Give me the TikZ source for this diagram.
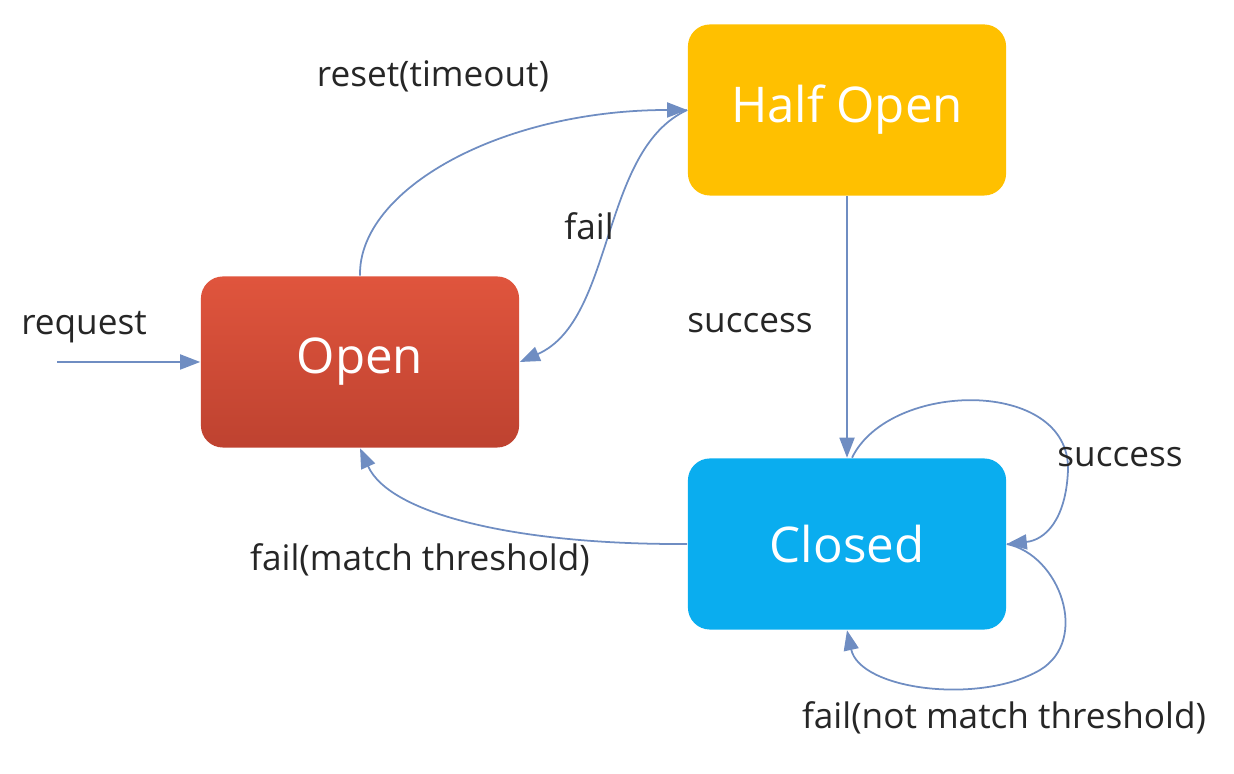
\documentclass[tikz,border=0pt]{standalone}
\usepackage{fontspec}
\setmainfont{Open Sans}
\usetikzlibrary{arrows.meta}
\definecolor{halfyellow}{HTML}{FFC000}
\definecolor{closedblue}{HTML}{0AADEF}
\definecolor{opentop}{HTML}{E0553D}
\definecolor{openbottom}{HTML}{BE4230}
\definecolor{linkblue}{HTML}{6F8DC2}
\begin{document}
\begin{tikzpicture}[x=0.01cm,y=-0.01cm,
    state/.style={rounded corners=0.22cm, minimum width=3.18cm, minimum height=1.71cm, text=white, font=\fontsize{14}{17}\selectfont},
    link/.style={-{Triangle[length=0.2cm,width=0.15cm]}, draw=linkblue, line width=0.5pt},
    lbl/.style={text=black!85, font=\fontsize{10}{12}\selectfont}]
    \useasboundingbox (0,0) rectangle (1234,774);
    \node[state, fill=halfyellow] (half) at (847,110) {Half Open};
    \node[state, top color=opentop, bottom color=openbottom] (open) at (360,362) {Open};
    \node[state, fill=closedblue] (closed) at (847,544) {Closed};
    \coordinate (req) at (57,362);
    \draw[link] (req) -- (open.west);
    \draw[link] (open.north) .. controls (358,190) and (500,110) .. (half.west);
    \draw[link] (half.west) .. controls (600,150) and (615,320) .. (open.east);
    \draw[link] (half.south) -- (closed.north);
    \draw[link] ([xshift=0.05cm]closed.north) .. controls (890,380) and (1070,378) .. (1068,470) .. controls (1066,520) and (1045,540) .. (closed.east);
    \draw[link] (closed.east) .. controls (1060,555) and (1090,640) .. (1040,670) .. controls (980,705) and (860,690) .. (closed.south);
    \draw[link] (closed.west) .. controls (520,545) and (390,515) .. (open.south);
    \node[lbl] (lreq) at (84,327) {request};
    \node[lbl] (lreset) at (433,76) {reset(timeout)};
    \node[lbl] (lfail) at (589,226) {fail};
    \node[lbl] (lsucc) at (750,323) {success};
    \node[lbl] (lloop) at (1120,457) {success};
    \node[lbl] (lmatch) at (420,560) {fail(match threshold)};
    \node[lbl] (lnot) at (1004,718) {fail(not match threshold)};
\end{tikzpicture}
\end{document}
